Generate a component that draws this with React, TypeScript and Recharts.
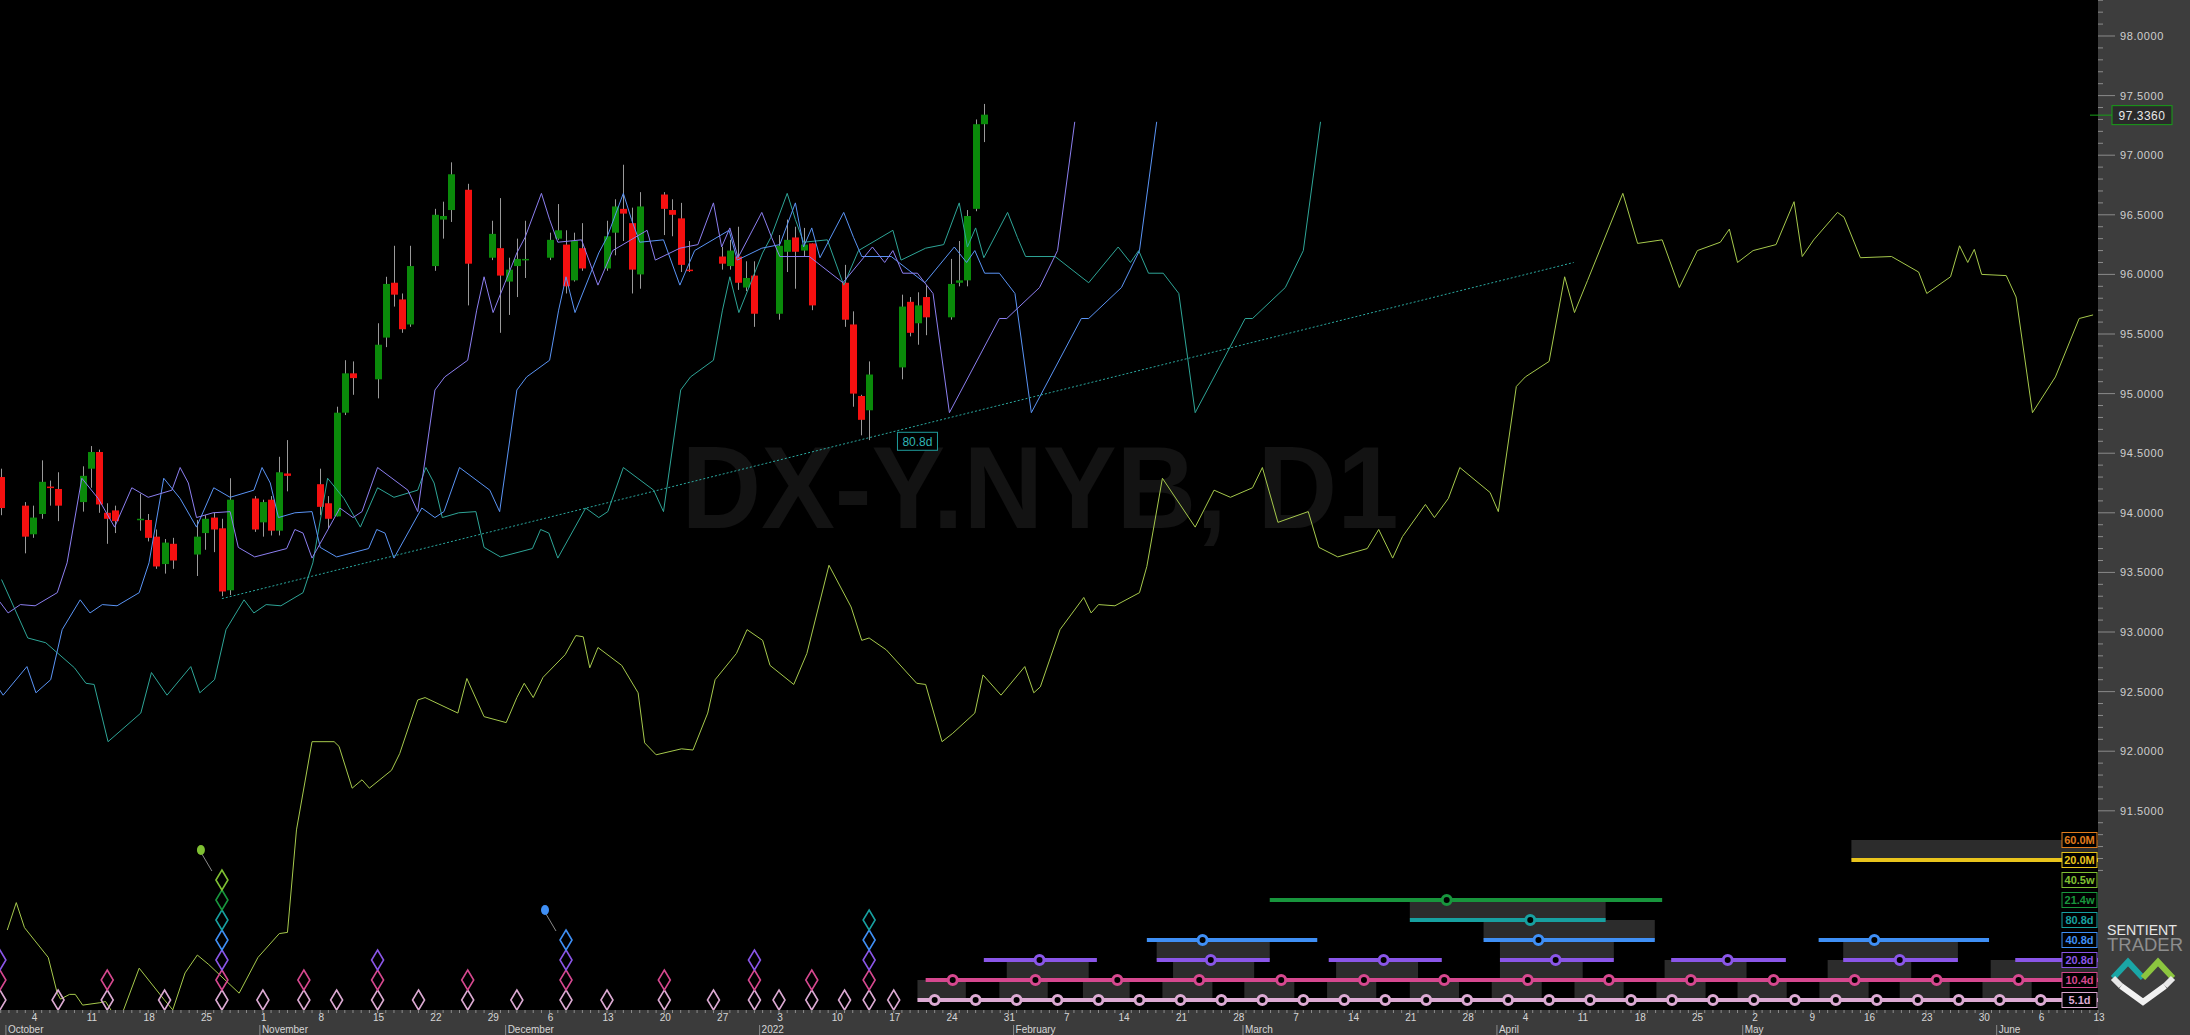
import React from "react";
import {
  ComposedChart,
  Bar,
  Line,
  Scatter,
  XAxis,
  YAxis,
  ReferenceLine,
  ReferenceArea,
  ReferenceDot,
} from "recharts";

// x values are calendar days counted from Mon 4 Oct 2021
const candleDay = [-4, -1, 0, 1, 2, 3, 6, 7, 8, 9, 10, 13, 14, 15, 16, 17, 20, 21, 22, 23, 24, 27, 28, 29, 30, 31, 35, 36, 37, 38, 39, 42, 43, 44, 45, 46, 49, 50, 51, 53, 56, 57, 58, 59, 60, 63, 64, 65, 66, 67, 70, 71, 72, 73, 74, 77, 78, 79, 80, 84, 85, 86, 87, 88, 91, 92, 93, 94, 95, 99, 100, 101, 102, 106, 107, 108, 109, 112, 113, 114, 115, 116];
const candleOpen = [94.30, 94.06, 93.82, 93.99, 94.22, 94.20, 94.09, 94.37, 94.51, 94.00, 94.02, 93.94, 93.94, 93.80, 93.57, 93.74, 93.65, 93.83, 93.96, 93.87, 93.35, 94.12, 93.92, 94.11, 93.85, 94.33, 94.24, 94.08, 93.97, 94.84, 95.17, 95.12, 95.47, 95.93, 95.79, 95.58, 96.07, 96.46, 96.54, 96.71, 96.14, 96.22, 95.94, 96.07, 96.12, 96.14, 96.30, 96.25, 95.95, 96.22, 96.05, 96.35, 96.55, 96.43, 96.00, 96.67, 96.54, 96.47, 96.04, 96.15, 96.07, 96.15, 95.89, 95.99, 95.67, 96.19, 96.31, 96.20, 96.26, 95.93, 95.58, 94.98, 94.86, 95.22, 95.77, 95.59, 95.81, 95.64, 95.93, 95.95, 96.55, 97.26];
const candleHigh = [94.37, 94.09, 94.06, 94.44, 94.27, 94.34, 94.39, 94.56, 94.53, 94.08, 94.06, 94.16, 93.99, 93.86, 93.78, 93.79, 93.94, 93.98, 94.00, 93.95, 94.29, 94.14, 94.11, 94.14, 94.47, 94.61, 94.37, 94.14, 94.89, 95.28, 95.27, 95.59, 95.98, 96.24, 95.84, 96.24, 96.55, 96.61, 96.94, 96.76, 96.45, 96.64, 96.14, 96.30, 96.45, 96.35, 96.59, 96.37, 96.35, 96.43, 96.45, 96.63, 96.92, 96.56, 96.69, 96.69, 96.63, 96.60, 96.28, 96.23, 96.29, 96.40, 96.11, 96.11, 96.33, 96.46, 96.40, 96.39, 96.26, 96.08, 95.69, 94.99, 95.27, 95.83, 95.81, 95.85, 95.91, 96.13, 96.28, 96.54, 97.30, 97.43];
const candleLow = [93.98, 93.66, 93.79, 93.95, 94.06, 93.93, 94.01, 94.21, 94.00, 93.74, 93.83, 93.85, 93.76, 93.53, 93.49, 93.53, 93.47, 93.69, 93.67, 93.30, 93.31, 93.84, 93.80, 93.81, 93.81, 94.18, 93.98, 93.87, 93.97, 94.82, 94.99, 94.96, 95.39, 95.73, 95.51, 95.56, 96.03, 96.30, 96.44, 95.74, 96.12, 95.51, 95.66, 95.81, 95.97, 96.12, 96.29, 95.84, 95.94, 96.03, 96.03, 96.16, 96.28, 95.84, 95.88, 96.33, 96.32, 96.02, 96.02, 96.04, 96.04, 95.87, 95.86, 95.56, 95.62, 96.02, 95.88, 96.15, 95.70, 95.56, 94.89, 94.65, 94.61, 95.12, 95.48, 95.41, 95.49, 95.62, 95.90, 95.90, 96.53, 97.11];
const candleClose = [94.04, 93.80, 93.96, 94.26, 94.21, 94.06, 94.31, 94.51, 94.07, 93.95, 93.93, 93.95, 93.79, 93.55, 93.75, 93.60, 93.80, 93.95, 93.86, 93.34, 94.11, 93.86, 94.09, 93.85, 94.34, 94.31, 94.05, 93.95, 94.84, 95.17, 95.13, 95.41, 95.92, 95.83, 95.54, 96.07, 96.50, 96.49, 96.84, 96.09, 96.34, 95.99, 96.04, 96.13, 96.13, 96.29, 96.37, 95.90, 96.28, 96.05, 96.32, 96.57, 96.51, 96.04, 96.57, 96.55, 96.50, 96.08, 96.03, 96.09, 96.20, 95.93, 95.97, 95.67, 96.24, 96.29, 96.19, 96.25, 95.74, 95.62, 95.00, 94.78, 95.16, 95.73, 95.51, 95.74, 95.64, 95.92, 95.95, 96.49, 97.26, 97.34];
const lastPrice = 97.336;

// projection lines
const purpleDay = [-6.5, -4.3, -3.1, -1.6, 0.2, 2.9, 4.1, 5.9, 7.9, 9.9, 12, 14, 16.9, 17.9, 18.9, 19.9, 21.9, 24, 25, 27, 30.9, 31.9, 32.9, 34, 37.4, 39, 40.1, 42, 45.7, 46.9, 49, 50.2, 53, 54.1, 55, 56.1, 59, 60, 62, 63, 64, 66.9, 68.9, 70.7, 74.9, 75.9, 78.9, 81.1, 83, 84, 85, 86, 88.9, 90.1, 91.1, 94.7, 98.8, 102.4, 103.9, 104.9, 106.1, 107.9, 109.8, 111.8, 117.9, 118.8, 122.8, 125, 127.1];
const purpleVal = [93.02, 93.27, 93.16, 93.23, 93.22, 93.33, 93.58, 94.29, 94.12, 93.88, 94.21, 94.13, 94.19, 94.38, 94.25, 93.96, 94.00, 94.01, 93.71, 93.63, 93.70, 93.86, 93.83, 93.62, 94.04, 93.96, 94.01, 94.38, 94.19, 94.01, 95.03, 95.14, 95.28, 95.70, 95.98, 95.68, 96.18, 96.31, 96.68, 96.46, 96.27, 96.29, 95.91, 96.20, 96.37, 96.12, 96.22, 96.25, 96.60, 96.23, 96.39, 96.14, 96.52, 96.31, 96.15, 96.15, 95.93, 96.23, 96.10, 96.20, 96.01, 96.01, 95.84, 94.84, 95.63, 95.63, 95.89, 96.20, 97.28];

const blueDay = [-6.9, -5.6, -3.7, -0.8, 0.3, 2.1, 3.5, 5.7, 6.9, 8.4, 10.2, 12.9, 14.1, 15.9, 17.9, 19.9, 22, 24, 26.9, 27.9, 28.9, 29.9, 31.9, 34, 35, 37, 40.9, 41.9, 42.9, 44, 47.4, 49, 50.1, 52, 55.7, 56.9, 59, 60.2, 63, 64.1, 65, 66.1, 69, 70, 72, 73, 74, 76.9, 78.9, 80.7, 84.9, 85.9, 88.9, 91.1, 93, 94, 95, 96, 98.9, 100.1, 101.1, 104.7, 108.8, 112.4, 113.9, 114.9, 116.1, 117.9, 119.8, 121.8, 127.9, 128.8, 132.8, 135, 137.1];
const blueVal = [92.32, 92.66, 92.47, 92.71, 92.49, 92.60, 93.02, 93.27, 93.16, 93.23, 93.22, 93.33, 93.58, 94.29, 94.12, 93.88, 94.21, 94.13, 94.19, 94.38, 94.25, 93.96, 94.00, 94.01, 93.71, 93.63, 93.70, 93.86, 93.83, 93.62, 94.04, 93.96, 94.01, 94.38, 94.19, 94.01, 95.03, 95.14, 95.28, 95.70, 95.98, 95.68, 96.18, 96.31, 96.68, 96.46, 96.27, 96.29, 95.91, 96.20, 96.37, 96.12, 96.22, 96.25, 96.60, 96.23, 96.39, 96.14, 96.52, 96.31, 96.15, 96.15, 95.93, 96.23, 96.10, 96.20, 96.01, 96.01, 95.84, 94.84, 95.63, 95.63, 95.89, 96.20, 97.28];

const tealDay = [-3.9, -0.7, 1.5, 5, 6.4, 7.4, 9.1, 13.1, 14.4, 16.3, 19.2, 20.3, 22.1, 23.5, 25.7, 26.9, 28.4, 30.2, 32.9, 34.1, 35.9, 37.9, 39.9, 42, 44, 46.9, 47.9, 48.9, 49.9, 51.9, 54, 55, 57, 60.9, 61.9, 62.9, 64, 67.4, 69, 70.1, 72, 75.7, 76.9, 79, 80.2, 83, 84.1, 85, 86.1, 89, 90, 92, 93, 94, 96.9, 98.9, 100.7, 104.9, 105.9, 108.9, 111.1, 113, 114, 115, 116, 118.9, 120.1, 121.1, 124.7, 128.8, 132.4, 133.9, 134.9, 136.1, 137.9, 139.8, 141.8, 147.9, 148.8, 152.8, 155, 157.1];
const tealVal = [93.44, 92.95, 92.91, 92.70, 92.57, 92.56, 92.08, 92.32, 92.66, 92.47, 92.71, 92.49, 92.60, 93.02, 93.27, 93.16, 93.23, 93.22, 93.33, 93.58, 94.29, 94.12, 93.88, 94.21, 94.13, 94.19, 94.38, 94.25, 93.96, 94.00, 94.01, 93.71, 93.63, 93.70, 93.86, 93.83, 93.62, 94.04, 93.96, 94.01, 94.38, 94.19, 94.01, 95.03, 95.14, 95.28, 95.70, 95.98, 95.68, 96.18, 96.31, 96.68, 96.46, 96.27, 96.29, 95.91, 96.20, 96.37, 96.12, 96.22, 96.25, 96.60, 96.23, 96.39, 96.14, 96.52, 96.31, 96.15, 96.15, 95.93, 96.23, 96.10, 96.20, 96.01, 96.01, 95.84, 94.84, 95.63, 95.63, 95.89, 96.20, 97.28];

const limeDay = [-3.2, -2.1, -1.1, 1.8, 2.9, 3.3, 4.4, 5.1, 6, 8.1, 8.8, 9.9, 11, 12.9, 15.9, 17, 18.5, 20, 21.4, 25.1, 27.4, 30, 31, 32.1, 34, 36.7, 37.3, 38.9, 40.1, 41, 43.7, 44.7, 46.9, 47.8, 51.8, 52.9, 55, 57.7, 59, 59.9, 61, 62.2, 64.9, 66.2, 67.1, 67.9, 68.9, 71.8, 73.8, 74.6, 76, 79.1, 80.5, 82.3, 83.2, 85.8, 87.1, 89, 89.9, 92.8, 94.4, 97.1, 99.8, 101.1, 102, 104.1, 107.8, 108.9, 110.9, 112.2, 114.9, 115.9, 118.1, 121, 122.1, 122.9, 125.3, 128.2, 129.1, 130, 132, 135, 135.9, 137.8, 141.8, 144.1, 146.1, 148.8, 150, 151.9, 155.6, 156.9, 159.2, 162.8, 164.2, 165.9, 167.1, 169.9, 171, 172.7, 174.1, 177.8, 178.8, 181, 182.1, 185, 186.9, 188.1, 189.7, 194, 195.8, 198.8, 200.9, 203.1, 205.9, 207, 208, 209.9, 212.7, 214.9, 215.9, 217.3, 220.2, 221, 223, 226.8, 230.1, 231.1, 234, 235.1, 236.1, 236.9, 237.8, 240.8, 242, 244, 246.8, 249.7, 251.4];
const limeVal = [90.50, 90.73, 90.52, 90.27, 89.97, 89.92, 89.96, 89.96, 89.87, 89.89, 89.90, 89.78, 89.83, 90.18, 89.92, 89.83, 90.14, 90.29, 90.21, 89.97, 90.27, 90.47, 90.48, 91.34, 92.08, 92.08, 92.04, 91.69, 91.76, 91.69, 91.84, 91.98, 92.43, 92.45, 92.32, 92.61, 92.29, 92.24, 92.45, 92.57, 92.45, 92.62, 92.81, 92.97, 92.96, 92.70, 92.87, 92.72, 92.49, 92.07, 91.97, 92.02, 92.01, 92.32, 92.60, 92.82, 93.02, 92.93, 92.72, 92.56, 92.82, 93.56, 93.21, 92.93, 92.95, 92.85, 92.57, 92.56, 92.08, 92.15, 92.32, 92.64, 92.47, 92.71, 92.49, 92.54, 93.02, 93.29, 93.16, 93.23, 93.22, 93.33, 93.55, 94.29, 93.88, 94.19, 94.13, 94.21, 94.38, 93.92, 94.01, 93.71, 93.63, 93.70, 93.86, 93.62, 93.80, 94.07, 93.96, 94.12, 94.38, 94.17, 94.01, 95.06, 95.14, 95.27, 95.98, 95.68, 95.95, 96.68, 96.26, 96.29, 95.89, 96.20, 96.27, 96.38, 96.10, 96.20, 96.25, 96.61, 96.15, 96.29, 96.52, 96.48, 96.14, 96.15, 96.02, 95.84, 95.98, 96.24, 96.10, 96.21, 96.00, 95.99, 95.81, 94.84, 95.14, 95.63, 95.66];

const trendDay = [23, 188];
const trendVal = [93.28, 96.10];

// cycle panel rows (0 = 5.1d ... 8 = 60.0M)
const rowLabels = ["5.1d", "10.4d", "20.8d", "40.8d", "80.8d", "21.4w", "40.5w", "20.0M", "60.0M"];
const rowColors = ["#dcaad3", "#d6488f", "#8a56e8", "#3f8ff5", "#17a0a0", "#18963d", "#7fc032", "#e9c41c", "#e07c1c"];

const dia5 = [-4.1, 3, 9, 16, 23, 28, 33, 37, 42, 47, 53, 59, 65, 70, 77, 83, 88, 91, 95, 99, 102, 105];
const dia10 = [-4.1, 9, 23, 33, 42, 53, 65, 77, 88, 95, 102];
const dia20 = [-4.1, 23, 42, 65, 88, 102];
const dia40 = [23, 65, 102];
const dia80 = [23, 102];
const dia21w = [23];
const dia40w = [23];
const flagDays = [23, 65];
const flagRows = [6, 3];

const segRow = [0, 1, 2, 2, 2, 2, 2, 2, 2, 3, 3, 3, 4, 5, 7];
const segStart = [107.9, 108.9, 116.0, 137.1, 158.1, 179.0, 199.9, 220.9, 241.9, 135.9, 177.0, 217.9, 168.0, 150.9, 221.9];
const segEnd = [252, 252, 129.8, 150.9, 171.9, 192.9, 213.9, 234.9, 252, 156.7, 197.9, 238.7, 191.9, 198.8, 252];

const circle5 = [110, 115, 120, 125, 130, 135, 140, 145, 150, 155, 160, 165, 170, 175, 180, 185, 190, 195, 200, 205, 210, 215, 220, 225, 230, 235, 240, 245];
const circle10 = [112.2, 122.3, 132.3, 142.3, 152.3, 162.4, 172.2, 182.4, 192.3, 202.3, 212.4, 222.3, 232.3, 242.3];
const circle20 = [122.8, 143.7, 164.8, 185.8, 206.8, 227.8];
const circle40 = [142.7, 183.7, 224.7];
const circle80 = [182.7];
const circle21w = [172.5];

const boxRow = [7, 4, 3, 2, 2, 2, 1, 1, 1, 1, 1, 1, 1, 0, 0, 0, 0, 0, 0, 0, 0, 0, 0, 0, 0, 0, 0];
const boxStart = [221.9, 168.0, 177.0, 137.1, 179.0, 220.9, 118.8, 139.1, 159.0, 179.0, 199.1, 219.0, 238.9, 107.9, 117.9, 128.1, 137.8, 147.8, 157.9, 168.0, 178.0, 188.1, 198.1, 208.0, 218.0, 227.8, 237.9];
const boxEnd = [252, 191.9, 197.9, 150.9, 192.9, 234.9, 128.8, 149.0, 169.0, 189.1, 209.1, 229.2, 252, 113.8, 123.8, 133.8, 143.9, 153.9, 163.9, 174.0, 184.1, 194.1, 204.1, 214.0, 224.0, 233.9, 243.9];

// axis labels
const weekDays = [0, 7, 14, 21, 28, 35, 42, 49, 56, 63, 70, 77, 84, 91, 98, 105, 112, 119, 126, 133, 140, 147, 154, 161, 168, 175, 182, 189, 196, 203, 210, 217, 224, 231, 238, 245, 252];
const weekLabels = ["4", "11", "18", "25", "1", "8", "15", "22", "29", "6", "13", "20", "27", "3", "10", "17", "24", "31", "7", "14", "21", "28", "7", "14", "21", "28", "4", "11", "18", "25", "2", "9", "16", "23", "30", "6", "13"];
const monthDays = [-3, 28, 58, 89, 120, 148, 179, 209, 240];
const monthNames = ["October", "November", "December", "2022", "February", "March", "April", "May", "June"];
const priceMajor = [91.5, 92, 92.5, 93, 93.5, 94, 94.5, 95, 95.5, 96, 96.5, 97, 97.5, 98];

const candles = candleDay.map((d, i) => ({ d, o: candleOpen[i], h: candleHigh[i], l: candleLow[i], c: candleClose[i] }));
const pts = (days: number[], vals: number[]) => days.map((d, i) => ({ d, v: vals[i] }));
const diamonds = [dia5, dia10, dia20, dia40, dia80, dia21w, dia40w].flatMap((days, r) =>
  days.map((d) => ({ d, r, flag: flagDays.some((f, i) => f === d && flagRows[i] === r) }))
);
const circles = [circle5, circle10, circle20, circle40, circle80, circle21w].flatMap((days, r) => days.map((d) => ({ d, r })));

const dayTicks = Array.from({ length: 257 }, (_, i) => i - 4);
const priceTicks = Array.from({ length: 74 }, (_, i) => Math.round((91 + i * 0.1) * 10) / 10);

const NARROW = "'Liberation Sans Narrow', 'Liberation Sans', Arial, sans-serif";
const SANS = "'Liberation Sans', Arial, sans-serif";

function Candle(props: any) {
  const { x, y, width, height, payload } = props;
  const { o, h, l, c } = payload;
  const top = Math.min(y, y + height);
  const span = Math.abs(height);
  const k = span / (h - l);
  const mid = Math.round(x + width / 2) + 0.5;
  const bodyTop = top + (h - Math.max(o, c)) * k;
  const bodyH = Math.max(1.5, Math.abs(o - c) * k);
  return (
    <g>
      <line x1={mid} x2={mid} y1={top} y2={top + span} stroke="#9a9a9a" strokeWidth={1} />
      <rect x={mid - 3.5} y={bodyTop} width={7} height={bodyH} fill={c >= o ? "#0a8a0a" : "#f51010"} />
    </g>
  );
}

function Diamond(props: any) {
  const { cx, cy, payload } = props;
  const col = rowColors[payload.r];
  return (
    <g>
      <path d={`M${cx},${cy - 10}L${cx + 6},${cy}L${cx},${cy + 10}L${cx - 6},${cy}Z`} fill="none" stroke={col} strokeWidth={1.6} />
      {payload.flag && (
        <g>
          <line x1={cx - 20} y1={cy - 26} x2={cx - 10} y2={cy - 9} stroke="#8a8a8a" strokeWidth={1} />
          <ellipse cx={cx - 21} cy={cy - 30} rx={4} ry={5} fill={col} />
        </g>
      )}
    </g>
  );
}

function DayTick(props: any) {
  const { x, y, payload } = props;
  const v = payload.value;
  const wi = weekDays.indexOf(v);
  const mi = monthDays.indexOf(v);
  return (
    <g>
      <line x1={x} x2={x} y1={y} y2={y + 3} stroke="#8c8c8c" strokeWidth={1} />
      {wi >= 0 && (
        <text x={x + 1} y={y + 11} textAnchor="middle" fontSize={10} fill="#d6d6d6" fontFamily={NARROW}>
          {weekLabels[wi]}
        </text>
      )}
      {mi >= 0 && (
        <g>
          <line x1={x - 3} x2={x - 3} y1={y + 15} y2={y + 25} stroke="#8c8c8c" strokeWidth={1} />
          <text x={x - 1} y={y + 23} fontSize={10} fill="#d6d6d6" fontFamily={NARROW}>
            {monthNames[mi]}
          </text>
        </g>
      )}
    </g>
  );
}

function PriceTick(props: any) {
  const { x, y, payload } = props;
  const v = payload.value;
  const mi = priceMajor.findIndex((m) => Math.abs(m - v) < 1e-6);
  return (
    <g>
      <line x1={x} x2={x + (mi >= 0 ? 17 : 5)} y1={y} y2={y} stroke="#8a8a8a" strokeWidth={1} />
      {mi >= 0 && (
        <text x={x + 22} y={y + 4} fontSize={11} fill="#cfcfcf" letterSpacing={0.6} fontFamily={SANS}>
          {priceMajor[mi].toFixed(4)}
        </text>
      )}
    </g>
  );
}

const legendShape = (r: number) => (p: any) => (
  <g>
    <rect x={p.cx - 36} y={p.cy - 7.5} width={35} height={15} fill="#000" stroke={rowColors[r]} strokeWidth={1} />
    <text x={p.cx - 18.5} y={p.cy + 4} textAnchor="middle" fontSize={11} fontWeight="bold" fill={rowColors[r]} fontFamily={NARROW}>
      {rowLabels[r]}
    </text>
  </g>
);

const priceTag = (p: any) => (
  <g>
    <line x1={p.cx - 8} x2={p.cx + 14} y1={p.cy} y2={p.cy} stroke="#17a017" strokeWidth={1} />
    <rect x={p.cx + 14} y={p.cy - 9.5} width={60} height={19} fill="#2a2a2a" stroke="#17a017" strokeWidth={1} />
    <text x={p.cx + 44} y={p.cy + 4.5} textAnchor="middle" fontSize={12} fill="#e8e8e8" letterSpacing={0.5} fontFamily={SANS}>
      {lastPrice.toFixed(4)}
    </text>
  </g>
);

const trendTag = (p: any) => (
  <g>
    <rect x={p.cx - 20} y={p.cy - 9} width={40} height={18} fill="#000" stroke="#1f9c9c" strokeWidth={1} />
    <text x={p.cx} y={p.cy + 5} textAnchor="middle" fontSize={12} fill="#2fb5b5" fontFamily={NARROW}>
      80.8d
    </text>
  </g>
);

export default function App() {
  return (
    <div style={{ position: "relative", width: 2190, height: 1035, background: "#000", overflow: "hidden" }}>
      <style>{`body{margin:0;background:#000}`}</style>
      <div style={{ position: "absolute", left: 2098, top: 0, width: 92, height: 1035, background: "#3d3d3d" }} />
      <div style={{ position: "absolute", left: 0, top: 1010, width: 2098, height: 25, background: "#3b3b3b" }} />
      <svg style={{ position: "absolute", left: 0, top: 0 }} width={2098} height={1010}>
        <text x={1040} y={528} textAnchor="middle" fontSize={116} fontWeight="bold" fill="#131313" fontFamily={SANS} textLength={717} lengthAdjust="spacingAndGlyphs">
          DX-Y.NYB, D1
        </text>
      </svg>
      <div style={{ position: "absolute", left: 0, top: 0 }}>
        <ComposedChart width={2190} height={1035} data={candles} margin={{ top: 0, right: 0, bottom: 0, left: 0 }}>
          <XAxis dataKey="d" type="number" domain={[-4.088, 252]} allowDataOverflow ticks={dayTicks} interval={0} tick={(p: any) => <DayTick {...p} />} tickLine={false} axisLine={false} height={25} tickSize={0} tickMargin={0} />
          <YAxis yAxisId="price" orientation="right" type="number" domain={[89.829, 98.302]} allowDataOverflow width={92} ticks={priceTicks} interval={0} tick={(p: any) => <PriceTick {...p} />} tickLine={false} axisLine={false} tickSize={0} tickMargin={0} />
          <YAxis yAxisId="cyc" type="number" domain={[-0.5, 50]} allowDataOverflow hide />

          {boxRow.map((r, i) => (
            <ReferenceArea key={"b" + i} yAxisId="cyc" x1={boxStart[i]} x2={boxEnd[i]} y1={r} y2={r + 1} fill="#2c2c2c" fillOpacity={1} stroke="none" ifOverflow="hidden" />
          ))}

          <Bar yAxisId="price" dataKey={(e: any) => [e.l, e.h]} barSize={7} shape={(p: any) => <Candle {...p} />} isAnimationActive={false} />

          <Line yAxisId="price" data={pts(limeDay, limeVal)} dataKey="v" stroke="#a6c94c" strokeWidth={1} dot={false} activeDot={false} isAnimationActive={false} />
          <Line yAxisId="price" data={pts(tealDay, tealVal)} dataKey="v" stroke="#2ea597" strokeWidth={1} dot={false} activeDot={false} isAnimationActive={false} />
          <Line yAxisId="price" data={pts(blueDay, blueVal)} dataKey="v" stroke="#5a94f5" strokeWidth={1} dot={false} activeDot={false} isAnimationActive={false} />
          <Line yAxisId="price" data={pts(purpleDay, purpleVal)} dataKey="v" stroke="#8c7ff0" strokeWidth={1} dot={false} activeDot={false} isAnimationActive={false} />
          <Line yAxisId="price" data={pts(trendDay, trendVal)} dataKey="v" stroke="#2aa9a0" strokeWidth={1} strokeDasharray="2 2" dot={false} activeDot={false} isAnimationActive={false} />

          {segRow.map((r, i) => (
            <ReferenceLine key={"s" + i} yAxisId="cyc" segment={[{ x: segStart[i], y: r }, { x: segEnd[i], y: r }]} stroke={rowColors[r]} strokeWidth={4} ifOverflow="hidden" />
          ))}
          {circles.map((c, i) => (
            <ReferenceDot key={"c" + i} yAxisId="cyc" x={c.d} y={c.r} r={4.5} fill="#000" stroke={rowColors[c.r]} strokeWidth={3} ifOverflow="hidden" />
          ))}

          <Scatter yAxisId="cyc" data={diamonds} dataKey="r" shape={(p: any) => <Diamond {...p} />} isAnimationActive={false} />

          {rowLabels.map((_, r) => (
            <ReferenceDot key={"l" + r} yAxisId="cyc" x={252} y={r} ifOverflow="visible" shape={legendShape(r)} />
          ))}
          <ReferenceDot yAxisId="price" x={107.9} y={94.6} ifOverflow="visible" shape={trendTag} />
          <ReferenceDot yAxisId="price" x={252} y={lastPrice} ifOverflow="visible" shape={priceTag} />
        </ComposedChart>
      </div>
      <svg style={{ position: "absolute", left: 2098, top: 900 }} width={92} height={110}>
        <text x={44} y={35} textAnchor="middle" fontSize={14} fill="#e6e6e6" fontFamily={SANS} textLength={70} lengthAdjust="spacingAndGlyphs">
          SENTIENT
        </text>
        <text x={47} y={51} textAnchor="middle" fontSize={19} fill="#8e8e8e" fontFamily={SANS} textLength={76} lengthAdjust="spacingAndGlyphs">
          TRADER
        </text>
        <path d="M15,78 L30,62 L45,78" fill="none" stroke="#1aa6a6" strokeWidth={6} />
        <path d="M45,78 L60,62 L75,78" fill="none" stroke="#8cc63f" strokeWidth={6} />
        <path d="M23,86 L45,102 L67,86" fill="none" stroke="#f2f2f2" strokeWidth={6} />
        <path d="M15,78 L23,86" fill="none" stroke="#e8e8e8" strokeWidth={6} />
        <path d="M75,78 L67,86" fill="none" stroke="#e8e8e8" strokeWidth={6} />
      </svg>
    </div>
  );
}
